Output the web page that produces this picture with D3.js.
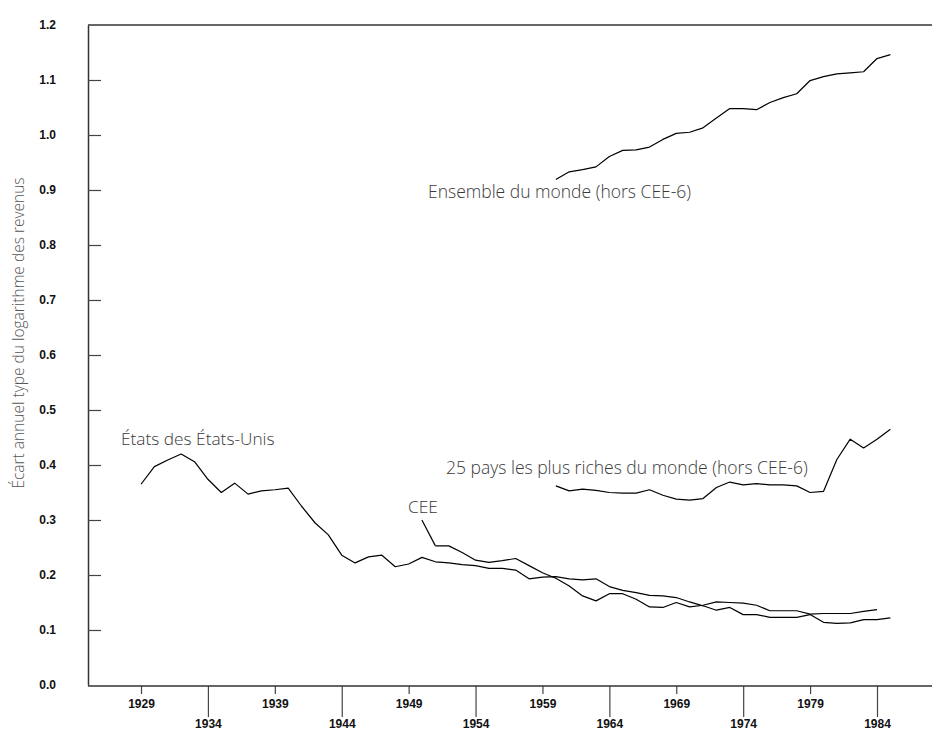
<!DOCTYPE html>
<html>
<head>
<meta charset="utf-8">
<script src="https://cdn.jsdelivr.net/npm/d3@7"></script>
<style>
  body { margin: 0; background: #fff; }
  .lbl { font-family: "Open Sans", sans-serif; font-weight: 300; fill: #3a3a3a; }
  .tick text { font-family: "Liberation Sans", Arial, sans-serif; font-weight: bold; font-size: 12px; fill: #111; }
</style>
</head>
<body>
<script>
// years for each series
var usStart = 1929, ceeStart = 1951, worldStart = 1960, richStart = 1960;

// États des États-Unis, 1929-1985
var usValues = [0.365, 0.397, 0.409, 0.420, 0.406, 0.374, 0.350, 0.367, 0.347, 0.353,
  0.355, 0.358, 0.325, 0.295, 0.273, 0.236, 0.222, 0.233, 0.236, 0.215,
  0.220, 0.232, 0.224, 0.222, 0.219, 0.217, 0.212, 0.212, 0.209, 0.193,
  0.196, 0.197, 0.193, 0.191, 0.193, 0.179, 0.172, 0.168, 0.163, 0.162,
  0.159, 0.151, 0.144, 0.136, 0.141, 0.128, 0.128, 0.123, 0.123, 0.123,
  0.128, 0.114, 0.112, 0.113, 0.119, 0.119, 0.122];

// CEE, 1951-1984
var ceeValues = [0.253, 0.253, 0.241, 0.227, 0.223, 0.226, 0.230, 0.217, 0.204, 0.194,
  0.180, 0.162, 0.153, 0.166, 0.166, 0.156, 0.142, 0.141, 0.150, 0.142,
  0.145, 0.151, 0.150, 0.149, 0.145, 0.135, 0.135, 0.135, 0.129, 0.130,
  0.130, 0.130, 0.134, 0.137];

// Ensemble du monde (hors CEE-6), 1960-1985
var worldValues = [0.919, 0.933, 0.937, 0.942, 0.961, 0.972, 0.973, 0.978, 0.992, 1.003,
  1.005, 1.013, 1.031, 1.048, 1.048, 1.046, 1.059, 1.068, 1.075, 1.099,
  1.106, 1.111, 1.113, 1.115, 1.139, 1.146];

// 25 pays les plus riches du monde (hors CEE-6), 1960-1985
var richValues = [0.362, 0.353, 0.356, 0.354, 0.350, 0.349, 0.349, 0.355, 0.345, 0.338,
  0.336, 0.339, 0.359, 0.369, 0.364, 0.366, 0.364, 0.364, 0.362, 0.350,
  0.352, 0.410, 0.447, 0.431, 0.447, 0.465];

var yTicks = [0.0, 0.1, 0.2, 0.3, 0.4, 0.5, 0.6, 0.7, 0.8, 0.9, 1.0, 1.1, 1.2];
var xTicksHigh = [1929, 1939, 1949, 1959, 1969, 1979];
var xTicksLow = [1934, 1944, 1954, 1964, 1974, 1984];

var width = 932, height = 732;
var plotLeft = 88, plotTop = 25, plotBottom = 685;

var svg = d3.select("body").append("svg")
  .attr("width", width)
  .attr("height", height);

var x = d3.scaleLinear().domain([1929, 1984]).range([141, 877]);
var y = d3.scaleLinear().domain([0, 1.2]).range([plotBottom, plotTop]);

function toPoints(start, values) {
  return values.map(function(v, i) { return { year: start + i, value: v }; });
}

// frame: top line and left / bottom axes
svg.append("line")
  .attr("x1", plotLeft).attr("x2", width)
  .attr("y1", plotTop).attr("y2", plotTop)
  .attr("stroke", "#333").attr("stroke-width", 1.5);

var yAxis = svg.append("g")
  .attr("transform", "translate(" + plotLeft + ",0)")
  .call(d3.axisLeft(y).tickValues(yTicks).tickFormat(d3.format(".1f"))
    .tickSizeInner(-13).tickSizeOuter(0).tickPadding(32));
yAxis.select(".domain").attr("stroke", "#333").attr("stroke-width", 1.5);
yAxis.selectAll(".tick line")
  .filter(function(d) { return d === 0 || d === 1.2; }).remove();

var xAxisHigh = svg.append("g")
  .attr("transform", "translate(0," + (plotBottom + 1) + ")")
  .call(d3.axisBottom(x).tickValues(xTicksHigh).tickFormat(d3.format("d"))
    .tickSizeInner(8).tickSizeOuter(0).tickPadding(5));
xAxisHigh.select(".domain").remove();

var xAxisLow = svg.append("g")
  .attr("transform", "translate(0," + (plotBottom + 1) + ")")
  .call(d3.axisBottom(x).tickValues(xTicksLow).tickFormat(d3.format("d"))
    .tickSizeInner(31).tickSizeOuter(0).tickPadding(2));
xAxisLow.select(".domain").remove();

svg.selectAll(".tick line").attr("stroke", "#444").attr("stroke-width", 1.2);

svg.append("line")
  .attr("x1", plotLeft).attr("x2", width)
  .attr("y1", plotBottom + 1).attr("y2", plotBottom + 1)
  .attr("stroke", "#333").attr("stroke-width", 1.5);

// series
var line = d3.line()
  .x(function(d) { return x(d.year); })
  .y(function(d) { return y(d.value); });

var series = [
  toPoints(usStart, usValues),
  toPoints(ceeStart, ceeValues),
  toPoints(worldStart, worldValues),
  toPoints(richStart, richValues)
];

svg.selectAll("path.series")
  .data(series)
  .enter().append("path")
  .attr("class", "series")
  .attr("d", line)
  .attr("fill", "none")
  .attr("stroke", "#000")
  .attr("stroke-width", 1.2)
  .attr("stroke-linejoin", "round");

// CEE leader
svg.append("line")
  .attr("x1", x(ceeStart) - 13.5).attr("y1", y(0.30))
  .attr("x2", x(ceeStart)).attr("y2", y(ceeValues[0]))
  .attr("stroke", "#000").attr("stroke-width", 1.2);

// labels
svg.append("text").attr("class", "lbl")
  .attr("x", 121).attr("y", 445).attr("font-size", 17.3)
  .text("États des États-Unis");
svg.append("text").attr("class", "lbl")
  .attr("x", 408).attr("y", 513).attr("font-size", 17.3)
  .text("CEE");
svg.append("text").attr("class", "lbl")
  .attr("x", 428).attr("y", 198).attr("font-size", 17.5)
  .text("Ensemble du monde (hors CEE-6)");
svg.append("text").attr("class", "lbl")
  .attr("x", 446).attr("y", 474).attr("font-size", 17.5)
  .text("25 pays les plus riches du monde (hors CEE-6)");

svg.append("text").attr("class", "lbl")
  .attr("transform", "translate(24,333) rotate(-90)")
  .attr("text-anchor", "middle")
  .attr("font-size", 15.5)
  .style("fill", "#555")
  .text("Écart annuel type du logarithme des revenus");
</script>
</body>
</html>
